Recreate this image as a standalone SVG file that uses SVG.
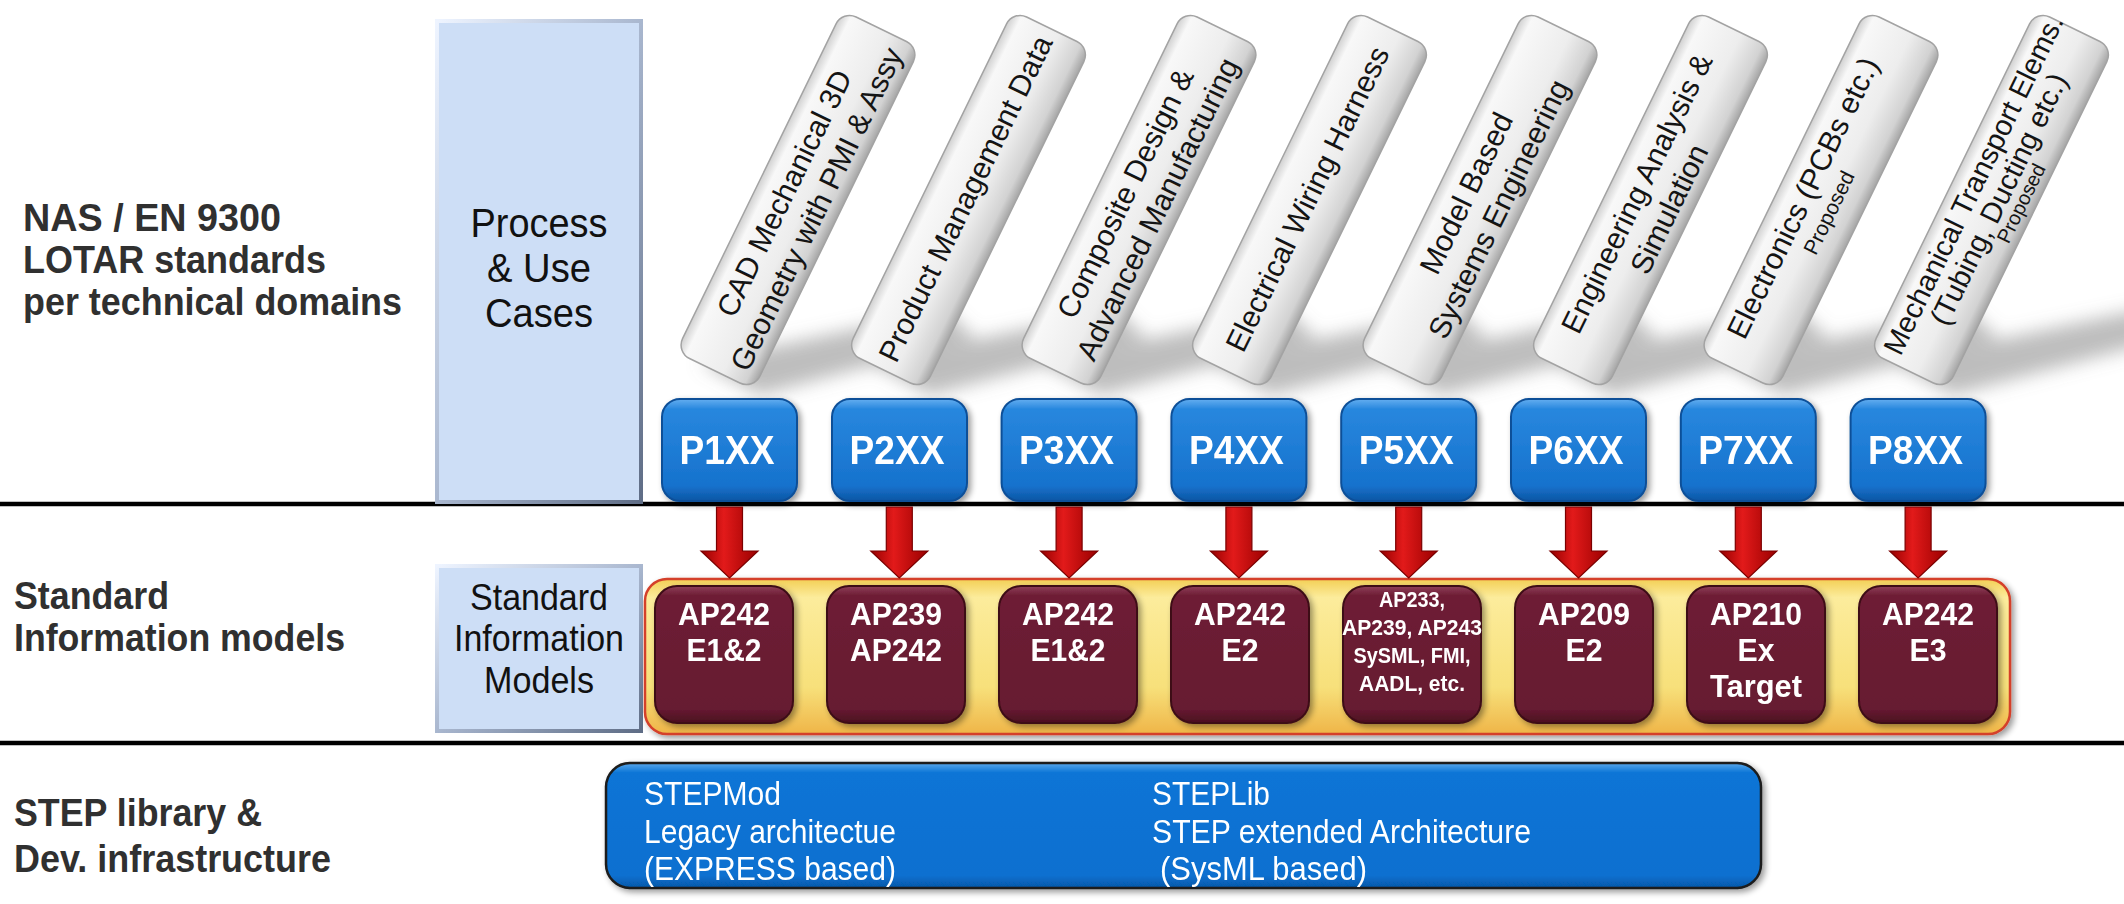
<svg xmlns="http://www.w3.org/2000/svg" width="2124" height="904" viewBox="0 0 2124 904">
<style>
text{font-family:'Liberation Sans',Arial,Helvetica,sans-serif}
.lbl{font-weight:bold;font-size:39px;fill:#303030}
.puc{font-size:41px;fill:#111;text-anchor:middle}
.sim{font-size:37px;fill:#111;text-anchor:middle}
.tt{font-size:30px;fill:#141414;text-anchor:middle}
.t8{font-size:29px;fill:#141414;text-anchor:middle}
.prop{font-size:21px;fill:#141414;text-anchor:middle}
.pt{font-weight:bold;font-size:40px;fill:#fff;text-anchor:middle}
.mt{font-weight:bold;font-size:32px;fill:#fff;text-anchor:middle}
.ms{font-weight:bold;font-size:22px;fill:#fff;text-anchor:middle}
.bt{font-size:33px;fill:#fff}
.tabr{fill:url(#tabG);stroke:#a3a3a3;stroke-width:1.5}
.pbox{fill:url(#pG);stroke:#0c4f98;stroke-width:2}
.mbox{fill:url(#marG);stroke:#3e0a18;stroke-width:2}
.arr{fill:url(#arrG);stroke:#7a0000;stroke-width:1.2}
.shd{fill:#7d7d7d;opacity:0.5}
.rule{stroke:#000;stroke-width:4.5}
</style>
<defs>
<linearGradient id="tabG" x1="0" y1="0" x2="0" y2="1">
<stop offset="0" stop-color="#d0d0d0"/>
<stop offset="0.12" stop-color="#f8f8f8"/>
<stop offset="0.6" stop-color="#ededed"/>
<stop offset="0.88" stop-color="#d2d2d2"/>
<stop offset="1" stop-color="#a5a5a5"/>
</linearGradient>
<linearGradient id="pG" x1="0" y1="0" x2="0" y2="1">
<stop offset="0" stop-color="#64aef0"/>
<stop offset="0.1" stop-color="#2887de"/>
<stop offset="0.85" stop-color="#1672cd"/>
<stop offset="1" stop-color="#0d56a4"/>
</linearGradient>
<linearGradient id="arrG" x1="0" y1="0" x2="1" y2="0">
<stop offset="0" stop-color="#960000"/>
<stop offset="0.4" stop-color="#e21a1a"/>
<stop offset="1" stop-color="#9a0000"/>
</linearGradient>
<linearGradient id="marG" x1="0" y1="0" x2="0" y2="1">
<stop offset="0" stop-color="#8e4058"/>
<stop offset="0.07" stop-color="#6e1d35"/>
<stop offset="0.9" stop-color="#661a31"/>
<stop offset="1" stop-color="#4a0f20"/>
</linearGradient>
<linearGradient id="yelG" x1="0" y1="0" x2="0" y2="1">
<stop offset="0" stop-color="#f3cf55"/>
<stop offset="0.12" stop-color="#fcec9c"/>
<stop offset="0.7" stop-color="#f7e07a"/>
<stop offset="1" stop-color="#efb548"/>
</linearGradient>
<linearGradient id="bluG" x1="0" y1="0" x2="0" y2="1">
<stop offset="0" stop-color="#5aa8ec"/>
<stop offset="0.08" stop-color="#0a74d6"/>
<stop offset="0.9" stop-color="#0870d0"/>
<stop offset="1" stop-color="#0658a8"/>
</linearGradient>
<linearGradient id="bevG" x1="0" y1="0" x2="1" y2="1">
<stop offset="0" stop-color="#eef4ff"/>
<stop offset="0.5" stop-color="#a9b7cf"/>
<stop offset="1" stop-color="#5f6d86"/>
</linearGradient>
<filter id="ds" x="-10%" y="-10%" width="125%" height="130%">
<feGaussianBlur in="SourceAlpha" stdDeviation="3"/>
<feOffset dx="3" dy="3"/>
<feComponentTransfer><feFuncA type="linear" slope="0.4"/></feComponentTransfer>
<feMerge><feMergeNode/><feMergeNode in="SourceGraphic"/></feMerge>
</filter>
<filter id="blr" x="-30%" y="-60%" width="160%" height="220%"><feGaussianBlur stdDeviation="9"/></filter>
</defs>

<rect width="2124" height="904" fill="#fff"/>

<!-- row labels -->
<g id="label-nas">
<text class="lbl" x="23" y="231" textLength="258" lengthAdjust="spacingAndGlyphs">NAS / EN 9300</text>
<text class="lbl" x="23" y="273" textLength="303" lengthAdjust="spacingAndGlyphs">LOTAR standards</text>
<text class="lbl" x="23" y="315" textLength="379" lengthAdjust="spacingAndGlyphs">per technical domains</text>
</g>
<g id="label-sim">
<text class="lbl" x="14" y="609" textLength="155" lengthAdjust="spacingAndGlyphs">Standard</text>
<text class="lbl" x="14" y="651" textLength="331" lengthAdjust="spacingAndGlyphs">Information models</text>
</g>
<g id="label-step">
<text class="lbl" x="14" y="826" textLength="248" lengthAdjust="spacingAndGlyphs">STEP library &amp;</text>
<text class="lbl" x="14" y="872" textLength="317" lengthAdjust="spacingAndGlyphs">Dev. infrastructure</text>
</g>

<!-- rules -->
<g id="rules">
<line class="rule" x1="0" y1="504" x2="2124" y2="504"/>
<line class="rule" x1="0" y1="743" x2="2124" y2="743"/>
</g>

<g id="process-use-cases">
<rect x="437" y="21" width="204" height="481" fill="#cddef6" stroke="url(#bevG)" stroke-width="4"/>
<text class="puc" x="539" y="237" textLength="137" lengthAdjust="spacingAndGlyphs">Process</text>
<text class="puc" x="539" y="282" textLength="104" lengthAdjust="spacingAndGlyphs">&amp; Use</text>
<text class="puc" x="539" y="327" textLength="108" lengthAdjust="spacingAndGlyphs">Cases</text>
</g>

<g id="sim-box">
<rect x="437" y="566" width="204" height="165" fill="#cddef6" stroke="url(#bevG)" stroke-width="4"/>
<text class="sim" x="539" y="610" textLength="138" lengthAdjust="spacingAndGlyphs">Standard</text>
<text class="sim" x="539" y="651" textLength="170" lengthAdjust="spacingAndGlyphs">Information</text>
<text class="sim" x="539" y="693" textLength="110" lengthAdjust="spacingAndGlyphs">Models</text>
</g>

<!-- tab shadows -->
<g id="tab-shadows" filter="url(#blr)">
<polygon class="shd" points="700,362 760,395 975,338 945,310"/>
<polygon class="shd" points="870,362 930,395 1146,338 1116,310"/>
<polygon class="shd" points="1041,362 1101,395 1316,338 1286,310"/>
<polygon class="shd" points="1211,362 1271,395 1487,338 1457,310"/>
<polygon class="shd" points="1382,362 1442,395 1657,338 1627,310"/>
<polygon class="shd" points="1552,362 1612,395 1828,338 1798,310"/>
<polygon class="shd" points="1723,362 1783,395 1998,338 1968,310"/>
<polygon class="shd" points="1893,362 1953,395 2169,338 2139,310"/>
</g>

<!-- domain tabs -->
<g id="tab-p1" transform="translate(798,200) rotate(-64)">
<rect class="tabr" x="-190" y="-43" width="380" height="86" rx="15"/>
<text class="tt" x="0" y="-5">CAD Mechanical 3D</text>
<text class="tt" x="0" y="31">Geometry with PMI &amp; Assy</text>
</g>
<g id="tab-p2" transform="translate(968.5,200) rotate(-64)">
<rect class="tabr" x="-190" y="-43" width="380" height="86" rx="15"/>
<text class="tt" x="0" y="7">Product Management Data</text>
</g>
<g id="tab-p3" transform="translate(1139,200) rotate(-64)">
<rect class="tabr" x="-190" y="-43" width="380" height="86" rx="15"/>
<text class="tt" x="0" y="-5">Composite Design &amp;</text>
<text class="tt" x="0" y="31">Advanced Manufacturing</text>
</g>
<g id="tab-p4" transform="translate(1309.5,200) rotate(-64)">
<rect class="tabr" x="-190" y="-43" width="380" height="86" rx="15"/>
<text class="tt" x="0" y="8">Electrical Wiring Harness</text>
</g>
<g id="tab-p5" transform="translate(1480,200) rotate(-64)">
<rect class="tabr" x="-190" y="-43" width="380" height="86" rx="15"/>
<text class="tt" x="0" y="-5">Model Based</text>
<text class="tt" x="0" y="31">Systems Engineering</text>
</g>
<g id="tab-p6" transform="translate(1650.5,200) rotate(-64)">
<rect class="tabr" x="-190" y="-43" width="380" height="86" rx="15"/>
<text class="tt" x="0" y="-5">Engineering Analysis &amp;</text>
<text class="tt" x="0" y="31">Simulation</text>
</g>
<g id="tab-p7" transform="translate(1821,200) rotate(-64)">
<rect class="tabr" x="-190" y="-43" width="380" height="86" rx="15"/>
<text class="tt" x="-6" y="-7">Electronics (PCBs etc.)</text>
<text class="prop" x="-8" y="20">Proposed</text>
</g>
<g id="tab-p8" transform="translate(1991.5,200) rotate(-64)">
<rect class="tabr" x="-190" y="-43" width="380" height="86" rx="15"/>
<text class="t8" x="6" y="-13">Mechanical Transport Elems.</text>
<text class="t8" x="4" y="16">(Tubing, Ducting etc.)</text>
<text class="prop" x="10" y="35" style="font-size:20px">Proposed</text>
</g>

<!-- P boxes -->
<g id="p1xx" filter="url(#ds)"><rect class="pbox" x="662" y="399" width="135" height="102" rx="18"/><text class="pt" x="727" y="464" textLength="95" lengthAdjust="spacingAndGlyphs">P1XX</text></g>
<g id="p2xx" filter="url(#ds)"><rect class="pbox" x="832" y="399" width="135" height="102" rx="18"/><text class="pt" x="897" y="464" textLength="95" lengthAdjust="spacingAndGlyphs">P2XX</text></g>
<g id="p3xx" filter="url(#ds)"><rect class="pbox" x="1001.6" y="399" width="135" height="102" rx="18"/><text class="pt" x="1066.6" y="464" textLength="95" lengthAdjust="spacingAndGlyphs">P3XX</text></g>
<g id="p4xx" filter="url(#ds)"><rect class="pbox" x="1171.4" y="399" width="135" height="102" rx="18"/><text class="pt" x="1236.4" y="464" textLength="95" lengthAdjust="spacingAndGlyphs">P4XX</text></g>
<g id="p5xx" filter="url(#ds)"><rect class="pbox" x="1341.2" y="399" width="135" height="102" rx="18"/><text class="pt" x="1406.2" y="464" textLength="95" lengthAdjust="spacingAndGlyphs">P5XX</text></g>
<g id="p6xx" filter="url(#ds)"><rect class="pbox" x="1511" y="399" width="135" height="102" rx="18"/><text class="pt" x="1576" y="464" textLength="95" lengthAdjust="spacingAndGlyphs">P6XX</text></g>
<g id="p7xx" filter="url(#ds)"><rect class="pbox" x="1680.8" y="399" width="135" height="102" rx="18"/><text class="pt" x="1745.8" y="464" textLength="95" lengthAdjust="spacingAndGlyphs">P7XX</text></g>
<g id="p8xx" filter="url(#ds)"><rect class="pbox" x="1850.6" y="399" width="135" height="102" rx="18"/><text class="pt" x="1915.6" y="464" textLength="95" lengthAdjust="spacingAndGlyphs">P8XX</text></g>

<!-- container of information models -->
<g id="sim-container" filter="url(#ds)">
<rect x="645" y="579" width="1365" height="155" rx="22" fill="url(#yelG)" stroke="#d4402a" stroke-width="2.5"/>
</g>

<!-- maroon boxes -->
<g id="ap-1" filter="url(#ds)"><rect class="mbox" x="655" y="586" width="138" height="137" rx="22"/><text class="mt" x="724" y="625" textLength="92" lengthAdjust="spacingAndGlyphs">AP242</text><text class="mt" x="724" y="661" textLength="75" lengthAdjust="spacingAndGlyphs">E1&amp;2</text></g>
<g id="ap-2" filter="url(#ds)"><rect class="mbox" x="827" y="586" width="138" height="137" rx="22"/><text class="mt" x="896" y="625" textLength="92" lengthAdjust="spacingAndGlyphs">AP239</text><text class="mt" x="896" y="661" textLength="92" lengthAdjust="spacingAndGlyphs">AP242</text></g>
<g id="ap-3" filter="url(#ds)"><rect class="mbox" x="999" y="586" width="138" height="137" rx="22"/><text class="mt" x="1068" y="625" textLength="92" lengthAdjust="spacingAndGlyphs">AP242</text><text class="mt" x="1068" y="661" textLength="75" lengthAdjust="spacingAndGlyphs">E1&amp;2</text></g>
<g id="ap-4" filter="url(#ds)"><rect class="mbox" x="1171" y="586" width="138" height="137" rx="22"/><text class="mt" x="1240" y="625" textLength="92" lengthAdjust="spacingAndGlyphs">AP242</text><text class="mt" x="1240" y="661" textLength="37" lengthAdjust="spacingAndGlyphs">E2</text></g>
<g id="ap-5" filter="url(#ds)"><rect class="mbox" x="1343" y="586" width="138" height="137" rx="22"/><text class="ms" x="1412" y="607" textLength="66" lengthAdjust="spacingAndGlyphs">AP233,</text><text class="ms" x="1412" y="635" textLength="140" lengthAdjust="spacingAndGlyphs">AP239, AP243</text><text class="ms" x="1412" y="663" textLength="117" lengthAdjust="spacingAndGlyphs">SySML, FMI,</text><text class="ms" x="1412" y="691" textLength="106" lengthAdjust="spacingAndGlyphs">AADL, etc.</text></g>
<g id="ap-6" filter="url(#ds)"><rect class="mbox" x="1515" y="586" width="138" height="137" rx="22"/><text class="mt" x="1584" y="625" textLength="92" lengthAdjust="spacingAndGlyphs">AP209</text><text class="mt" x="1584" y="661" textLength="37" lengthAdjust="spacingAndGlyphs">E2</text></g>
<g id="ap-7" filter="url(#ds)"><rect class="mbox" x="1687" y="586" width="138" height="137" rx="22"/><text class="mt" x="1756" y="625" textLength="92" lengthAdjust="spacingAndGlyphs">AP210</text><text class="mt" x="1756" y="661" textLength="37" lengthAdjust="spacingAndGlyphs">Ex</text><text class="mt" x="1756" y="697" textLength="92" lengthAdjust="spacingAndGlyphs">Target</text></g>
<g id="ap-8" filter="url(#ds)"><rect class="mbox" x="1859" y="586" width="138" height="137" rx="22"/><text class="mt" x="1928" y="625" textLength="92" lengthAdjust="spacingAndGlyphs">AP242</text><text class="mt" x="1928" y="661" textLength="37" lengthAdjust="spacingAndGlyphs">E3</text></g>

<!-- connectors: red arrows -->
<g id="connectors">
<path class="arr" d="M716.5,507 H742.5 V551 H758 L729.5,578 L701,551 H716.5 Z"/>
<path class="arr" d="M886.3,507 H912.3 V551 H927.8 L899.3,578 L870.8,551 H886.3 Z"/>
<path class="arr" d="M1056.1,507 H1082.1 V551 H1097.6 L1069.1,578 L1040.6,551 H1056.1 Z"/>
<path class="arr" d="M1225.9,507 H1251.9 V551 H1267.4 L1238.9,578 L1210.4,551 H1225.9 Z"/>
<path class="arr" d="M1395.7,507 H1421.7 V551 H1437.2 L1408.7,578 L1380.2,551 H1395.7 Z"/>
<path class="arr" d="M1565.5,507 H1591.5 V551 H1607 L1578.5,578 L1550,551 H1565.5 Z"/>
<path class="arr" d="M1735.3,507 H1761.3 V551 H1776.8 L1748.3,578 L1719.8,551 H1735.3 Z"/>
<path class="arr" d="M1905.1,507 H1931.1 V551 H1946.6 L1918.1,578 L1889.6,551 H1905.1 Z"/>
</g>

<!-- STEP infrastructure -->
<g id="step-box" filter="url(#ds)">
<rect x="606" y="763" width="1155" height="125" rx="24" fill="url(#bluG)" stroke="#1b1b1b" stroke-width="2.5"/>
<text class="bt" x="644" y="805" textLength="137" lengthAdjust="spacingAndGlyphs">STEPMod</text>
<text class="bt" x="644" y="843" textLength="252" lengthAdjust="spacingAndGlyphs">Legacy architectue</text>
<text class="bt" x="644" y="880" textLength="252" lengthAdjust="spacingAndGlyphs">(EXPRESS based)</text>
<text class="bt" x="1152" y="805" textLength="118" lengthAdjust="spacingAndGlyphs">STEPLib</text>
<text class="bt" x="1152" y="843" textLength="379" lengthAdjust="spacingAndGlyphs">STEP extended Architecture</text>
<text class="bt" x="1160" y="880" textLength="207" lengthAdjust="spacingAndGlyphs">(SysML based)</text>
</g>
</svg>
